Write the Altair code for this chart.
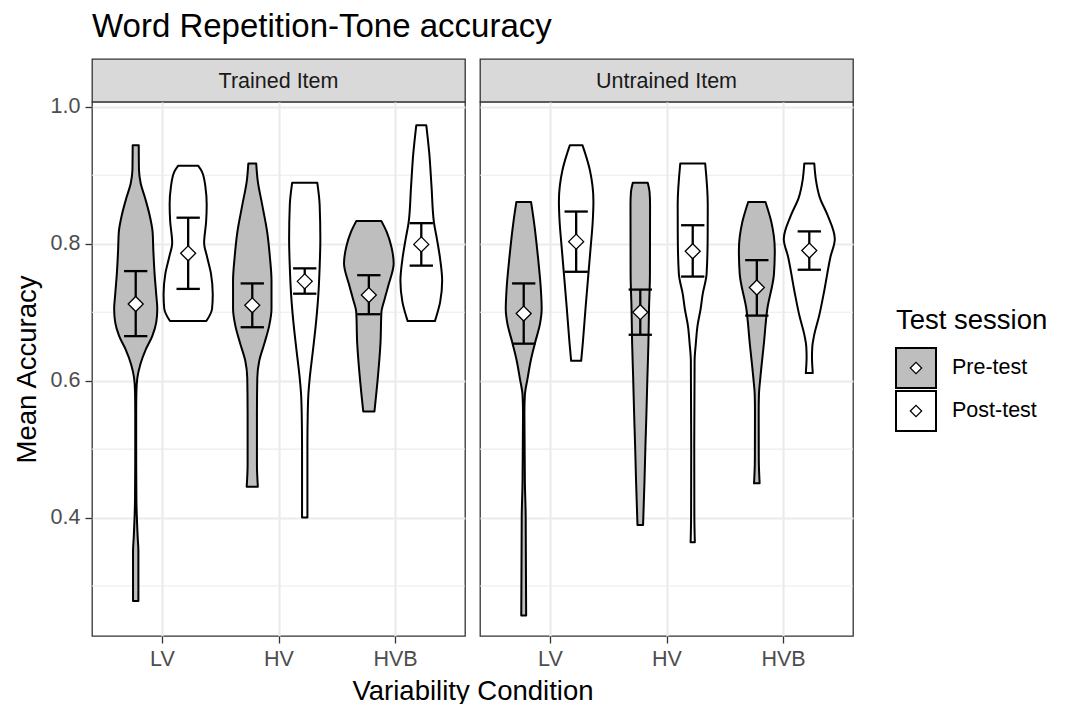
import altair as alt
import pandas as pd

FONT = "Liberation Sans"

panels = ["Trained Item", "Untrained Item"]
conditions = ["LV", "HV", "HVB"]
sessions = ["Pre-test", "Post-test"]
session_fills = ["#BEBEBE", "#FFFFFF"]
session_offsets = [-0.225, 0.225]

# Violin outlines, listed bottom to top: accuracy level and half-width (x units)
outline_acc = {
    ("Trained Item", "LV", "Pre-test"): [0.278, 0.351, 0.371, 0.427, 0.503, 0.553, 0.584, 0.604, 0.624, 0.645, 0.665, 0.685, 0.705, 0.726, 0.756, 0.791, 0.817, 0.842, 0.867, 0.888, 0.908, 0.944],
    ("Trained Item", "LV", "Post-test"): [0.687, 0.705, 0.726, 0.756, 0.781, 0.801, 0.832, 0.857, 0.883, 0.905, 0.914],
    ("Trained Item", "HV", "Pre-test"): [0.445, 0.477, 0.503, 0.553, 0.604, 0.629, 0.655, 0.680, 0.705, 0.746, 0.781, 0.817, 0.857, 0.893, 0.917],
    ("Trained Item", "HV", "Post-test"): [0.400, 0.452, 0.503, 0.553, 0.579, 0.604, 0.645, 0.685, 0.726, 0.766, 0.807, 0.857, 0.889],
    ("Trained Item", "HVB", "Pre-test"): [0.555, 0.604, 0.655, 0.700, 0.720, 0.741, 0.771, 0.796, 0.817, 0.833],
    ("Trained Item", "HVB", "Post-test"): [0.687, 0.715, 0.746, 0.781, 0.807, 0.832, 0.883, 0.933, 0.973],
    ("Untrained Item", "LV", "Pre-test"): [0.257, 0.402, 0.452, 0.553, 0.579, 0.604, 0.629, 0.655, 0.685, 0.705, 0.731, 0.781, 0.832, 0.861],
    ("Untrained Item", "LV", "Post-test"): [0.629, 0.655, 0.705, 0.756, 0.796, 0.832, 0.862, 0.908, 0.944],
    ("Untrained Item", "HV", "Pre-test"): [0.389, 0.452, 0.503, 0.553, 0.604, 0.655, 0.705, 0.756, 0.857, 0.875, 0.889],
    ("Untrained Item", "HV", "Post-test"): [0.364, 0.402, 0.503, 0.629, 0.655, 0.680, 0.705, 0.726, 0.756, 0.807, 0.857, 0.917],
    ("Untrained Item", "HVB", "Pre-test"): [0.450, 0.483, 0.553, 0.579, 0.604, 0.655, 0.705, 0.756, 0.791, 0.832, 0.861],
    ("Untrained Item", "HVB", "Post-test"): [0.611, 0.634, 0.650, 0.665, 0.695, 0.731, 0.781, 0.807, 0.842, 0.867, 0.893, 0.917],
}
outline_half = {
    ("Trained Item", "LV", "Pre-test"): [0.023, 0.023, 0.017, 0.006, 0.004, 0.004, 0.006, 0.014, 0.040, 0.085, 0.142, 0.176, 0.185, 0.176, 0.162, 0.151, 0.145, 0.119, 0.080, 0.043, 0.028, 0.026],
    ("Trained Item", "LV", "Post-test"): [0.156, 0.205, 0.211, 0.196, 0.162, 0.137, 0.154, 0.159, 0.148, 0.119, 0.085],
    ("Trained Item", "HV", "Pre-test"): [0.048, 0.040, 0.040, 0.040, 0.043, 0.060, 0.105, 0.145, 0.165, 0.165, 0.151, 0.128, 0.085, 0.046, 0.034],
    ("Trained Item", "HV", "Post-test"): [0.023, 0.023, 0.023, 0.026, 0.031, 0.043, 0.071, 0.097, 0.117, 0.128, 0.134, 0.128, 0.108],
    ("Trained Item", "HVB", "Pre-test"): [0.048, 0.077, 0.100, 0.108, 0.137, 0.171, 0.213, 0.193, 0.154, 0.108],
    ("Trained Item", "HVB", "Post-test"): [0.117, 0.162, 0.179, 0.159, 0.134, 0.108, 0.088, 0.068, 0.043],
    ("Untrained Item", "LV", "Pre-test"): [0.021, 0.017, 0.010, 0.006, 0.010, 0.034, 0.060, 0.097, 0.142, 0.154, 0.148, 0.122, 0.088, 0.063],
    ("Untrained Item", "LV", "Post-test"): [0.043, 0.057, 0.080, 0.105, 0.125, 0.142, 0.148, 0.117, 0.054],
    ("Untrained Item", "HV", "Pre-test"): [0.024, 0.036, 0.044, 0.053, 0.061, 0.070, 0.075, 0.083, 0.084, 0.080, 0.064],
    ("Untrained Item", "HV", "Post-test"): [0.018, 0.014, 0.013, 0.016, 0.027, 0.041, 0.068, 0.085, 0.119, 0.128, 0.129, 0.107],
    ("Untrained Item", "HVB", "Pre-test"): [0.024, 0.017, 0.016, 0.018, 0.030, 0.061, 0.090, 0.147, 0.154, 0.124, 0.074],
    ("Untrained Item", "HVB", "Post-test"): [0.030, 0.023, 0.026, 0.040, 0.085, 0.128, 0.182, 0.219, 0.156, 0.091, 0.057, 0.043],
}

# Mean accuracy and error-bar limits, in condition order
mean_acc = {
    "Trained Item": {"Pre-test": [0.712, 0.710, 0.725], "Post-test": [0.786, 0.745, 0.799]},
    "Untrained Item": {"Pre-test": [0.698, 0.700, 0.736], "Post-test": [0.803, 0.789, 0.790]},
}
lower_acc = {
    "Trained Item": {"Pre-test": [0.665, 0.678, 0.697], "Post-test": [0.734, 0.727, 0.768]},
    "Untrained Item": {"Pre-test": [0.654, 0.667, 0.695], "Post-test": [0.759, 0.752, 0.762]},
}
upper_acc = {
    "Trained Item": {"Pre-test": [0.760, 0.742, 0.754], "Post-test": [0.838, 0.764, 0.830]},
    "Untrained Item": {"Pre-test": [0.742, 0.733, 0.776], "Post-test": [0.847, 0.827, 0.818]},
}

y_breaks = [0.4, 0.6, 0.8, 1.0]
y_minor = [0.3, 0.5, 0.7, 0.9]

PANEL_W, PANEL_H, STRIP_H, LEGEND_W = 373, 534, 43, 190
GAP = 15
CAP_HALF = 0.1
TITLE_SIZE = 27.5

# ---- long tables built from the arrays above ----
violin_rows = []
for (panel, cond, sess), accs in outline_acc.items():
    halves = outline_half[(panel, cond, sess)]
    pos = conditions.index(cond) + 1 + session_offsets[sessions.index(sess)]
    for a, h in zip(accs, halves):
        violin_rows.append({"panel": panel, "session": sess, "vid": f"{cond}|{sess}",
                            "acc": a, "x_lo": pos - h, "x_hi": pos + h})
violins = pd.DataFrame(violin_rows)

summary_rows = []
for panel in panels:
    for sess, off in zip(sessions, session_offsets):
        for i, cond in enumerate(conditions):
            pos = i + 1 + off
            summary_rows.append({"panel": panel, "session": sess, "pos": pos,
                                 "cap_l": pos - CAP_HALF, "cap_r": pos + CAP_HALF,
                                 "mean": mean_acc[panel][sess][i],
                                 "lo": lower_acc[panel][sess][i],
                                 "hi": upper_acc[panel][sess][i]})
summary = pd.DataFrame(summary_rows)

xscale = alt.Scale(domain=[0.4, 3.6], nice=False, zero=False)
yscale = alt.Scale(domain=[0.227, 1.007], nice=False, zero=False)
fill_scale = alt.Scale(domain=sessions, range=session_fills)

label_expr = f"{conditions}[datum.value - 1]"


def plot_panel(panel, first):
    x_axis = alt.Axis(
        values=[1, 2, 3], labelExpr=label_expr, grid=True, gridColor="#EBEBEB",
        gridWidth=2.2, domain=False, tickColor="#333333", tickWidth=1.3, tickSize=7,
        labelFont=FONT, labelFontSize=21.5, labelColor="#4D4D4D", labelPadding=5,
        title="Variability Condition" if first else "",
        titleFont=FONT, titleFontSize=TITLE_SIZE, titleFontWeight="normal", titleColor="black",
        titleX=PANEL_W + GAP / 2, titleY=63, titleBaseline="alphabetic", titleAlign="center",
    )
    y_axis = alt.Axis(
        values=y_breaks, format=".1f", grid=True, gridColor="#EBEBEB", gridWidth=2.2,
        domain=False, ticks=first, labels=first, tickColor="#333333", tickWidth=1.3,
        tickSize=7, labelFont=FONT, labelFontSize=21.5, labelColor="#4D4D4D", labelPadding=5,
        title="Mean Accuracy" if first else "",
        titleFont=FONT, titleFontSize=TITLE_SIZE, titleFontWeight="normal", titleColor="black",
        titleX=-57, titleY=PANEL_H / 2, titleAngle=270, titleBaseline="alphabetic",
        titleAlign="center",
    )
    v = violins[violins.panel == panel]
    s = summary[summary.panel == panel]

    def X(field):
        return alt.X(field, scale=xscale, axis=x_axis)

    def Y(field):
        return alt.Y(field, scale=yscale, axis=y_axis)

    minor = alt.Chart(pd.DataFrame({"v": y_minor})).mark_rule(
        color="#EBEBEB", strokeWidth=1.1
    ).encode(y=Y("v:Q"))

    violin = alt.Chart(v).mark_area(
        orient="horizontal", interpolate="monotone", stroke="black",
        strokeWidth=2, strokeJoin="round", opacity=1,
    ).encode(
        y=Y("acc:Q"),
        x=X("x_lo:Q"),
        x2="x_hi:Q",
        fill=alt.Fill("session:N", scale=fill_scale, legend=None),
        detail="vid:N",
    )

    base = alt.Chart(s)
    stem = base.mark_rule(color="black", strokeWidth=2.3).encode(
        x=X("pos:Q"), y=Y("lo:Q"), y2="hi:Q")
    cap_hi = base.mark_rule(color="black", strokeWidth=2.3).encode(
        x=X("cap_l:Q"), x2="cap_r:Q", y=Y("hi:Q"))
    cap_lo = base.mark_rule(color="black", strokeWidth=2.3).encode(
        x=X("cap_l:Q"), x2="cap_r:Q", y=Y("lo:Q"))
    means = base.mark_point(
        shape="diamond", filled=True, fill="white", stroke="black",
        strokeWidth=1.3, size=225, opacity=1,
    ).encode(x=X("pos:Q"), y=Y("mean:Q"))

    return alt.layer(minor, violin, stem, cap_hi, cap_lo, means).properties(
        width=PANEL_W, height=PANEL_H,
        view=alt.ViewBackground(fill="white", stroke="#333333", strokeWidth=1.3),
    )


def strip_panel(panel):
    return alt.Chart(pd.DataFrame({"label": [panel]})).mark_text(
        font=FONT, fontSize=21.5, color="#1A1A1A", baseline="middle", align="center"
    ).encode(text="label:N", x=alt.value(PANEL_W / 2), y=alt.value(STRIP_H / 2 + 1)).properties(
        width=PANEL_W, height=STRIP_H,
        view=alt.ViewBackground(fill="#D9D9D9", stroke="#333333", strokeWidth=1.3),
    )


# empty cell above the legend
blank = alt.Chart(pd.DataFrame({"label": [""]})).mark_text().encode(
    text="label:N", x=alt.value(0), y=alt.value(0)
).properties(width=LEGEND_W, height=STRIP_H,
             view=alt.ViewBackground(stroke="transparent", fill="transparent"))

# ---- legend for the test sessions ----
legend_df = pd.DataFrame({"session": sessions, "row": [0, 1]})
legend_base = alt.Chart(legend_df)
key_y = alt.Y("row:Q", scale=alt.Scale(domain=[0, 1], range=[266, 309]), axis=None)
keys = legend_base.mark_square(size=1600, stroke="black", strokeWidth=2, opacity=1).encode(
    x=alt.value(48), y=key_y,
    fill=alt.Fill("session:N", scale=fill_scale, legend=None))
key_marks = legend_base.mark_point(
    shape="diamond", filled=True, fill="white", stroke="black", strokeWidth=1.2,
    size=130, opacity=1).encode(x=alt.value(48), y=key_y)
key_text = legend_base.mark_text(
    font=FONT, fontSize=21.5, color="black", align="left", baseline="middle").encode(
    x=alt.value(84), y=key_y, text="session:N")
legend_title = alt.Chart(pd.DataFrame({"t": ["Test session"]})).mark_text(
    font=FONT, fontSize=TITLE_SIZE, color="black", align="left", baseline="alphabetic").encode(
    x=alt.value(28), y=alt.value(227), text="t:N")
legend = alt.layer(keys, key_marks, key_text, legend_title).properties(
    width=LEGEND_W, height=PANEL_H,
    view=alt.ViewBackground(stroke="transparent", fill="transparent"),
)

chart = alt.concat(
    strip_panel(panels[0]), strip_panel(panels[1]), blank,
    plot_panel(panels[0], True), plot_panel(panels[1], False), legend,
    columns=3,
    spacing=alt.RowColnumber(row=0, column=GAP),
    bounds="flush",
).resolve_scale(
    x="independent", y="independent", fill="independent"
).properties(
    title=alt.TitleParams(
        "Word Repetition-Tone accuracy", anchor="start", frame="group",
        font=FONT, fontSize=33, fontWeight="normal", color="black",
        baseline="alphabetic", offset=-17,
    ),
    padding={"left": 12, "top": 10, "right": 5, "bottom": 5},
).configure(font=FONT, background="white")

chart.save("out.html", embed_options={"renderer": "svg", "actions": False})
